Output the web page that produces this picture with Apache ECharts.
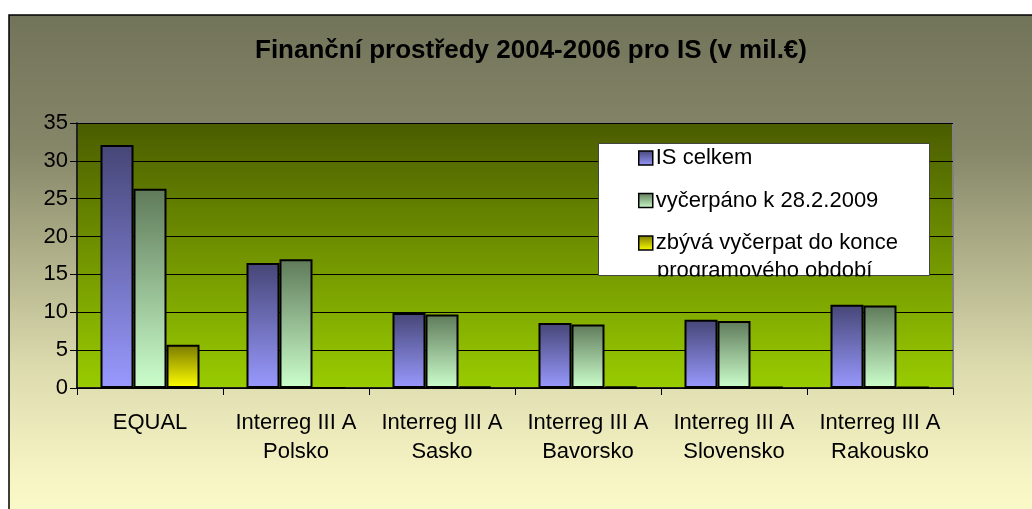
<!DOCTYPE html>
<html>
<head>
<meta charset="utf-8">
<script src="https://cdn.jsdelivr.net/npm/echarts@6/dist/echarts.min.js"></script>
<style>
  html, body { margin: 0; padding: 0; background: #fff; }
  #chart { width: 1032px; height: 509px; }
</style>
</head>
<body>
<div id="chart"></div>
<script>
var categories = ['EQUAL', 'Interreg III A\nPolsko', 'Interreg III A\nSasko', 'Interreg III A\nBavorsko', 'Interreg III A\nSlovensko', 'Interreg III A\nRakousko']
var celkem = [32.1, 16.5, 9.9, 8.6, 9.0, 11.0]
var vycerpano = [26.3, 17.0, 9.7, 8.4, 8.85, 10.9]
var zbyva = [5.7, 0, 0.2, 0.2, 0.15, 0.15]
var seriesNames = ['IS celkem', 'vyčerpáno k 28.2.2009', 'zbývá vyčerpat do konce programového období']
var yTicks = { min: 0, max: 35, interval: 5 }

var font = 'Arial, "Liberation Sans", sans-serif'

function barGrad (top, bottom) {
  return {
    type: 'linear', x: 0, y: 0, x2: 0, y2: 1,
    colorStops: [{ offset: 0, color: top }, { offset: 1, color: bottom }]
  }
}

// plot area gradient in page coordinates, shared with the legend cover
var plotGrad = {
  type: 'linear', x: 0, y: 123, x2: 0, y2: 388, global: true,
  colorStops: [{ offset: 0, color: '#4a5c00' }, { offset: 1, color: '#99cc00' }]
}

var colors = [
  barGrad('#464677', '#9999ff'),
  barGrad('#5f7a5a', '#ccffcc'),
  barGrad('#7a7a00', '#ffff00')
]

var myChart = echarts.init(document.getElementById('chart'))

var option = {
  animation: false,
  backgroundColor: '#ffffff',
  textStyle: { fontFamily: font },
  title: {
    text: 'Finanční prostředy 2004-2006 pro IS (v mil.€)',
    left: 531,
    textAlign: 'center',
    top: 36,
    padding: 0,
    textStyle: { fontFamily: font, fontSize: 26, fontWeight: 'bold', color: '#000', lineHeight: 30 }
  },
  graphic: [
    {
      type: 'rect',
      z: -10,
      shape: { x: 9, y: 15, width: 1060, height: 540 },
      style: {
        fill: {
          type: 'linear', x: 0, y: 0, x2: 0, y2: 1,
          colorStops: [
            { offset: 0, color: '#72745a' },
            { offset: 0.25, color: '#868769' },
            { offset: 0.45, color: '#b0b08a' },
            { offset: 0.65, color: '#dcdbae' },
            { offset: 0.85, color: '#f6f4c4' },
            { offset: 1, color: '#ffffcc' }
          ]
        },
        stroke: '#000',
        lineWidth: 1.5
      }
    },
    {
      type: 'rect',
      z: 3,
      shape: { x: 598.5, y: 143.5, width: 331, height: 132 },
      style: { fill: '#ffffff', stroke: '#444', lineWidth: 1 }
    },
    {
      type: 'text',
      z: 5,
      x: 657,
      y: 271,
      style: {
        text: 'programového období',
        font: '22px ' + font,
        fill: '#000',
        verticalAlign: 'middle'
      }
    },
    {
      type: 'rect',
      z: 6,
      shape: { x: 598, y: 276.5, width: 332, height: 12 },
      style: { fill: plotGrad }
    }
  ],
  legend: {
    orient: 'vertical',
    left: 638,
    top: 145,
    padding: 0,
    itemWidth: 14,
    itemHeight: 14,
    itemGap: 16.5,
    itemStyle: { borderColor: '#000', borderWidth: 1.5 },
    textStyle: { fontFamily: font, fontSize: 22, color: '#000', lineHeight: 26, padding: [0, 0, 0, -2] },
    formatter: function (name) {
      return name === seriesNames[2] ? 'zbývá vyčerpat do konce' : name
    },
    data: seriesNames.map(function (n) { return { name: n, icon: 'rect' } })
  },
  grid: {
    left: 77,
    right: 79,
    top: 123,
    bottom: 121,
    show: true,
    backgroundColor: plotGrad,
    borderColor: '#808080',
    borderWidth: 2
  },
  xAxis: {
    type: 'category',
    data: categories,
    axisLine: { lineStyle: { color: '#000', width: 1.5 } },
    axisTick: { show: true, length: 7, lineStyle: { color: '#000' } },
    axisLabel: { color: '#000', fontSize: 22, fontFamily: font, lineHeight: 29, margin: 20, interval: 0 },
    splitLine: { show: false }
  },
  yAxis: {
    type: 'value',
    min: yTicks.min,
    max: yTicks.max,
    interval: yTicks.interval,
    axisLine: { show: true, lineStyle: { color: '#000', width: 1.5 } },
    axisTick: { show: true, length: 7, lineStyle: { color: '#000' } },
    axisLabel: { color: '#000', fontSize: 22, fontFamily: font, margin: 9 },
    splitLine: { show: true, lineStyle: { color: '#000', width: 1 } }
  },
  series: [
    { name: seriesNames[0], type: 'bar', data: celkem },
    { name: seriesNames[1], type: 'bar', data: vycerpano },
    { name: seriesNames[2], type: 'bar', data: zbyva }
  ].map(function (s, i) {
    s.barWidth = 33
    s.barGap = '0%'
    s.itemStyle = { color: colors[i], borderColor: '#000', borderWidth: 2 }
    return s
  })
}

myChart.setOption(option)
window.onresize = myChart.resize
</script>
</body>
</html>
